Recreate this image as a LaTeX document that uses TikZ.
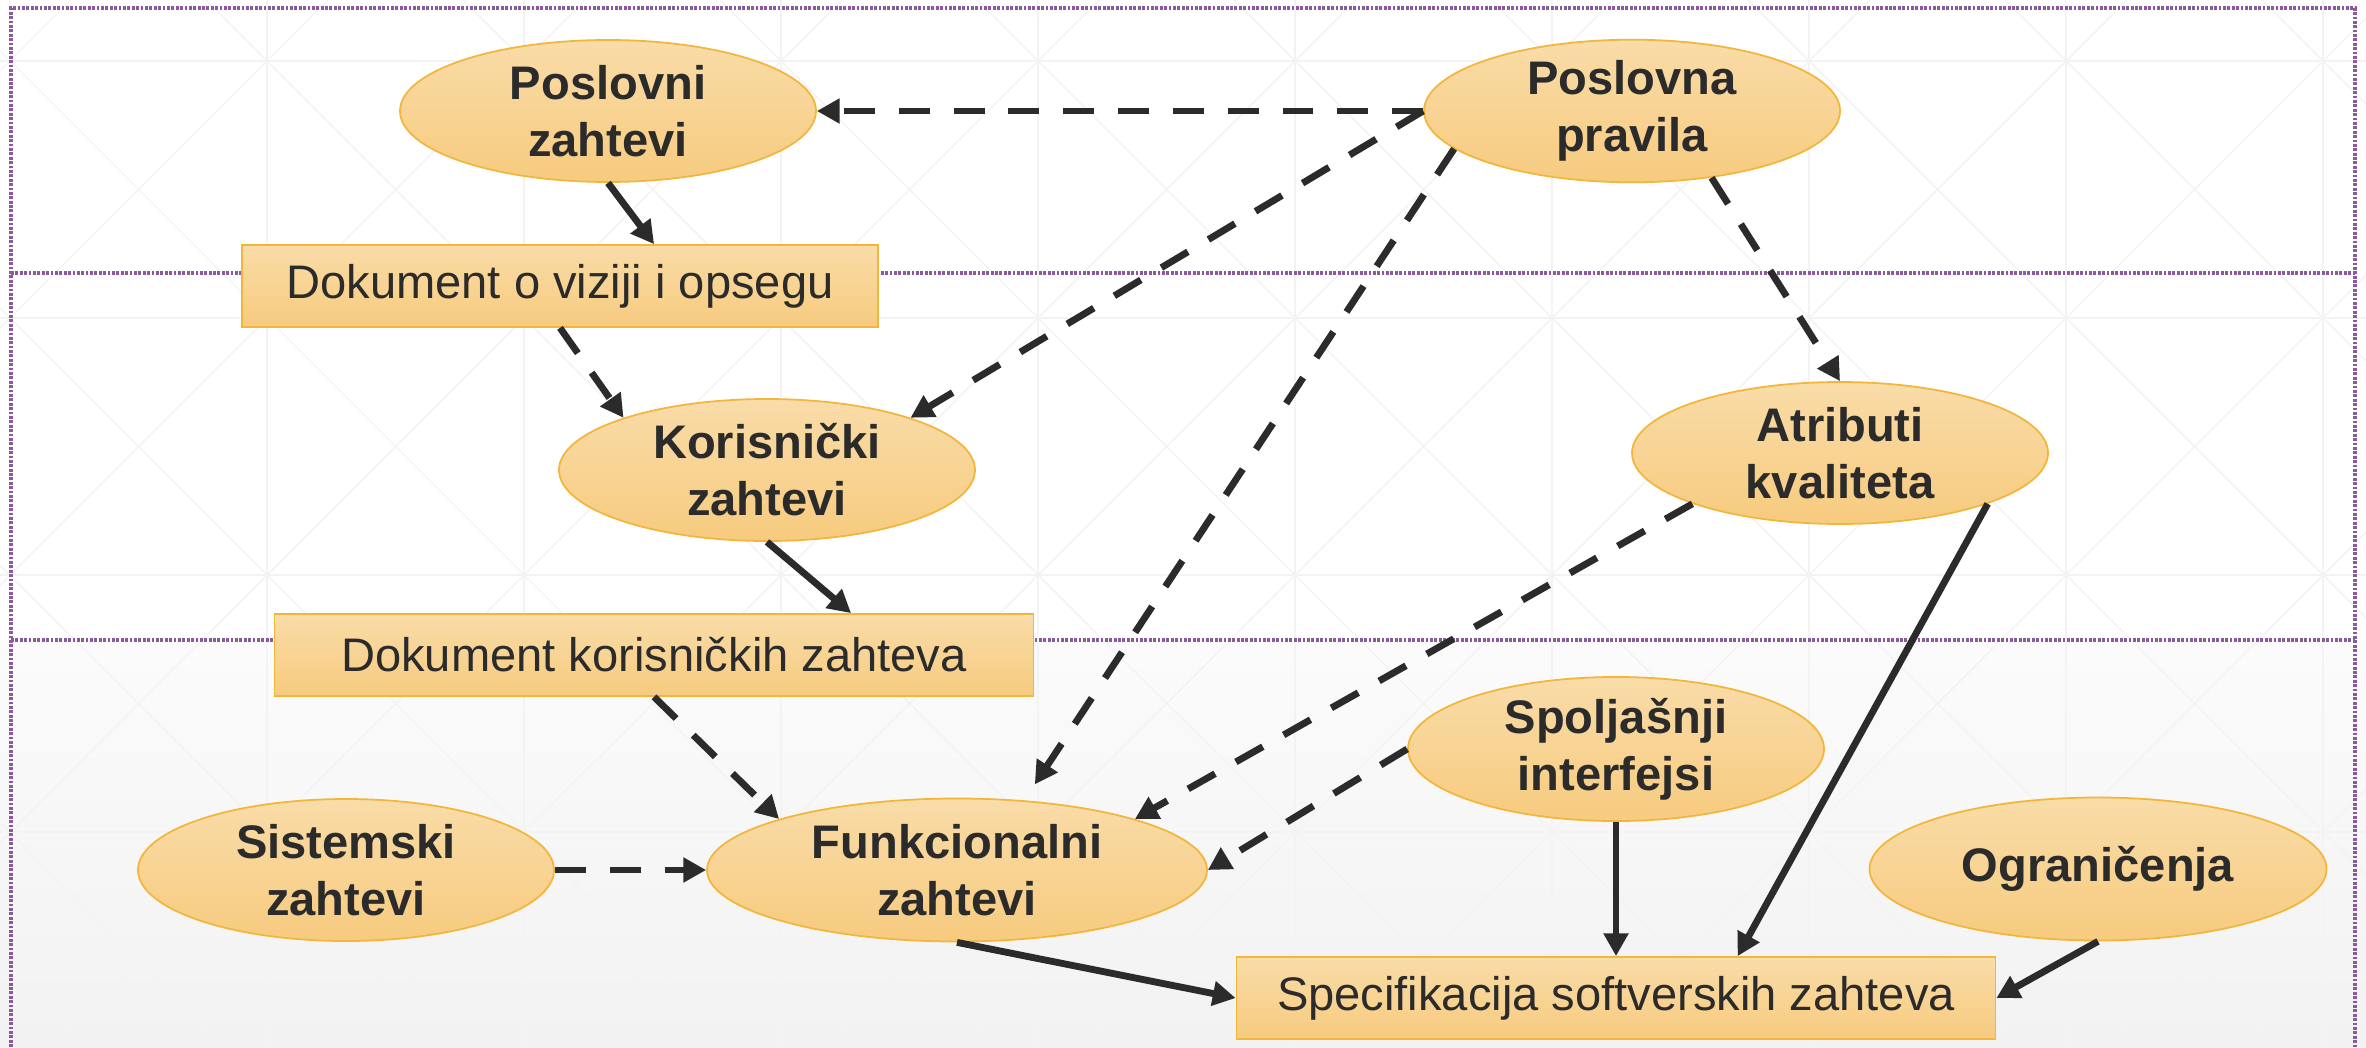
\documentclass[tikz,border=0pt]{standalone}
\usepackage{fontspec}
\setmainfont{Liberation Sans}
\usepackage{tikz}
\usetikzlibrary{arrows.meta,shapes.geometric}
\definecolor{nodetop}{HTML}{F9DCA8}
\definecolor{nodebottom}{HTML}{F7CB7F}
\definecolor{nodeborder}{HTML}{F2B63C}
\definecolor{arrowdark}{HTML}{2B2B2B}
\definecolor{bandpurple}{HTML}{8A5A9C}
\definecolor{gridgray}{HTML}{F3F3F3}
\definecolor{bandgray}{HTML}{F2F2F2}

\begin{document}
\begin{tikzpicture}[
    x=0.1mm, y=-0.1mm,
    >={Triangle[length=6.5pt,width=6.8pt]},
    every node/.style={font=\fontsize{13.4}{16.2}\selectfont, text=arrowdark},
    reqoval/.style={ellipse, draw=nodeborder, line width=0.5pt,
        top color=nodetop, bottom color=nodebottom,
        minimum width=41.6mm, minimum height=14.2mm, inner sep=0pt,
        align=center, font=\fontsize{13.4}{16.2}\selectfont\bfseries},
    docbox/.style={rectangle, draw=nodeborder, line width=0.5pt,
        top color=nodetop, bottom color=nodebottom,
        minimum height=8.2mm, inner sep=0pt},
    solidlink/.style={->, draw=arrowdark, line width=1.95pt},
    dashlink/.style={solidlink, dash pattern=on 8.8pt off 6.8pt},
    bandline/.style={bandpurple, line width=1pt, dash pattern=on 0.8pt off 0.45pt}
]
    \useasboundingbox (0,0) rectangle (2366,1047);

    % === BACKGROUND ===
    \fill[white] (0,0) rectangle (2366,1047);
    \shade[top color=white!70!bandgray, bottom color=bandgray] (0,640) rectangle (2366,1047);

    \begin{scope}
        \clip (0,0) rectangle (2366,1047);
        \foreach \gx in {10,267,...,2580} {
            \draw[gridgray, line width=0.4pt] (\gx,0) -- (\gx,1047);
        }
        \foreach \gy in {61,318,575,832} {
            \draw[gridgray, line width=0.4pt] (0,\gy) -- (2366,\gy);
        }
        \foreach \gx in {-1275,-1018,...,3865} {
            \draw[gridgray, line width=0.4pt] (\gx-300,-239) -- (\gx+1400,1461);
            \draw[gridgray, line width=0.4pt] (\gx+300,-239) -- (\gx-1400,1461);
        }
    \end{scope}

    % === BANDS ===
    \draw[bandline] (11,1047) -- (11,8) -- (2355,8) -- (2355,1047);
    \draw[bandline] (11,273) -- (2355,273);
    \draw[bandline] (11,640) -- (2355,640);

    % === REQUIREMENTS ===
    \node[reqoval] (pz) at (608,111) {Poslovni\\zahtevi};
    \node[reqoval] (pp) at (1632,111) {Poslovna\\pravila};
    \node[docbox, minimum width=63.6mm] (dv) at (560,286) {Dokument o viziji i opsegu};
    \node[reqoval] (kz) at (767,470) {Korisnički\\zahtevi};
    \node[reqoval] (ak) at (1840,453) {Atributi\\kvaliteta};
    \node[docbox, minimum width=75.9mm] (dk) at (654,655) {Dokument korisničkih zahteva};
    \node[reqoval] (si) at (1616,749) {Spoljašnji\\interfejsi};
    \node[reqoval] (sz) at (346,870) {Sistemski\\zahtevi};
    \node[reqoval, minimum width=50mm, minimum height=14.3mm] (fz) at (957,870) {Funkcionalni\\zahtevi};
    \node[reqoval, minimum width=45.7mm, minimum height=14.3mm] (og) at (2098,869) {Ograničenja};
    \node[docbox, minimum width=75.9mm] (ss) at (1616,998) {Specifikacija softverskih zahteva};

    % === SOLID LINKS ===
    \draw[solidlink] (pz.south) -- (dv.24);
    \draw[solidlink] (kz.south) -- (dk.12);
    \draw[solidlink] (fz.south) -- (ss.west);
    \draw[solidlink] (si.south) -- (ss.north);
    \draw[solidlink] (ak.-19) -- (ss.19);
    \draw[solidlink] (og.south) -- (ss.east);

    % === DASHED LINKS ===
    \draw[dashlink] (pp.west) -- (pz.east);
    \draw[dashlink] (dv.south) -- (kz.160);
    \draw[dashlink] (pp.west) -- (kz.20);
    \draw[dashlink, shorten >=1.9mm] (pp.192) -- (fz.46);
    \draw[dashlink] (pp.-40) -- (ak.north);
    \draw[dashlink] (ak.199) -- (fz.16);
    \draw[dashlink] (si.west) -- (fz.east);
    \draw[dashlink] (dk.south) -- (fz.164);
    \draw[dashlink] (sz.east) -- (fz.west);
\end{tikzpicture}
\end{document}
